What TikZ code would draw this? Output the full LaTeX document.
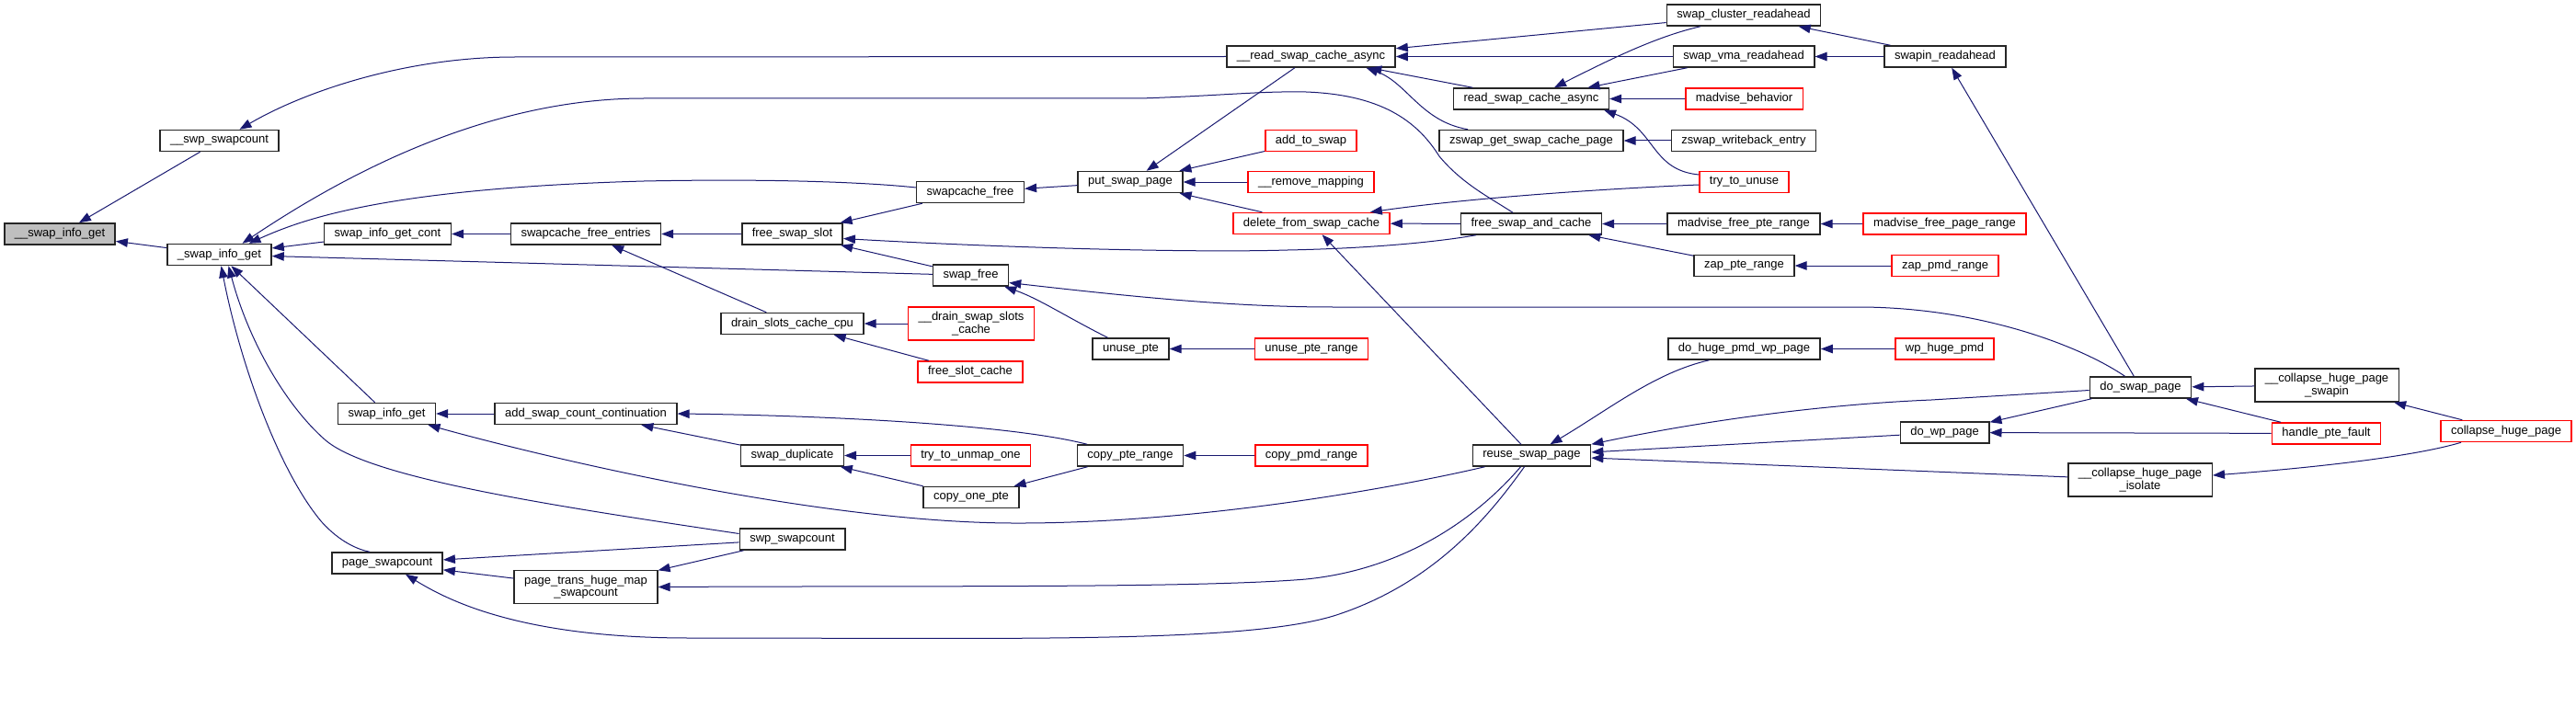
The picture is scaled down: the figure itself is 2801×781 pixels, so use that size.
\documentclass[tikz,border=0pt]{standalone}
\usepackage{fontspec}
\setmainfont{Liberation Sans}
\usetikzlibrary{arrows.meta}
\definecolor{edgeblue}{HTML}{191970}
\definecolor{curgray}{HTML}{BFBFBF}
\tikzset{
  fnbox/.style={draw=black!85, fill=white, line width=1.5pt, inner xsep=11pt, inner ysep=2pt,
    minimum height=23pt, font=\fontsize{13}{13.4}\selectfont},
  redbox/.style={fnbox, draw=red},
  curbox/.style={fnbox, fill=curgray},
  twoline/.style={align=center, minimum height=36pt},
  callline/.style={draw=edgeblue, line width=1pt, {Triangle[length=13pt,width=9.5pt]}-}
}
\begin{document}
\begin{tikzpicture}[x=1pt,y=-1pt]
    % Fix the page to the size of the graph
    \useasboundingbox (0,0) rectangle (2801,781);

    % Draw the function boxes, column by column
    \node[curbox] (sig) at (65,254.5) {\_\_swap\_info\_get};
    \node[fnbox] (swpsc) at (238.5,153) {\_\_swp\_swapcount};
    \node[fnbox] (usig) at (238.5,277) {\_swap\_info\_get};
    \node[fnbox] (sigc) at (421.5,254.5) {swap\_info\_get\_cont};
    \node[fnbox] (sigt) at (420.5,450) {swap\_info\_get};
    \node[fnbox] (psc) at (421,612.5) {page\_swapcount};
    \node[fnbox] (sfe) at (637,254.5) {swapcache\_free\_entries};
    \node[fnbox] (ascc) at (637,450) {add\_swap\_count\_continuation};
    \node[fnbox,twoline] (pthms) at (637,638.5) {page\_trans\_huge\_map\\\_swapcount};
    \node[fnbox] (fss) at (861.5,254.5) {free\_swap\_slot};
    \node[fnbox] (dscc) at (861.5,352) {drain\_slots\_cache\_cpu};
    \node[fnbox] (sdup) at (861.5,495.5) {swap\_duplicate};
    \node[fnbox] (swpsct) at (861.5,586.5) {swp\_swapcount};
    \node[fnbox] (scf) at (1055,209) {swapcache\_free};
    \node[fnbox] (sfree) at (1055.5,299.5) {swap\_free};
    \node[redbox,twoline] (dssc) at (1056,352) {\_\_drain\_swap\_slots\\\_cache};
    \node[redbox] (fsc) at (1055,404.5) {free\_slot\_cache};
    \node[redbox] (ttuo) at (1055.5,495.5) {try\_to\_unmap\_one};
    \node[fnbox] (cop) at (1056,541) {copy\_one\_pte};
    \node[fnbox] (psp) at (1229,198) {put\_swap\_page};
    \node[fnbox] (upte) at (1229.5,379.5) {unuse\_pte};
    \node[fnbox] (cpr) at (1229,495.5) {copy\_pte\_range};
    \node[fnbox] (rscau) at (1425.5,61.5) {\_\_read\_swap\_cache\_async};
    \node[redbox] (ats) at (1425.5,153) {add\_to\_swap};
    \node[redbox] (rmap) at (1425.5,198) {\_\_remove\_mapping};
    \node[redbox] (dfsc) at (1426,243) {delete\_from\_swap\_cache};
    \node[redbox] (upr) at (1426,379.5) {unuse\_pte\_range};
    \node[redbox] (cpmd) at (1426,495.5) {copy\_pmd\_range};
    \node[fnbox] (rsca) at (1665,107.5) {read\_swap\_cache\_async};
    \node[fnbox] (zgscp) at (1665,153) {zswap\_get\_swap\_cache\_page};
    \node[fnbox] (fsac) at (1665,243.5) {free\_swap\_and\_cache};
    \node[fnbox] (rsp) at (1665.5,495.5) {reuse\_swap\_page};
    \node[fnbox] (scr) at (1896,16.5) {swap\_cluster\_readahead};
    \node[fnbox] (svr) at (1896,61.5) {swap\_vma\_readahead};
    \node[redbox] (mb) at (1896.5,107.5) {madvise\_behavior};
    \node[fnbox] (zwe) at (1896,153) {zswap\_writeback\_entry};
    \node[redbox] (ttu) at (1896.5,198) {try\_to\_unuse};
    \node[fnbox] (mfpr) at (1896,243.5) {madvise\_free\_pte\_range};
    \node[fnbox] (zpr) at (1896.5,289) {zap\_pte\_range};
    \node[fnbox] (dhpwp) at (1896.5,379.5) {do\_huge\_pmd\_wp\_page};
    \node[fnbox] (sra) at (2115,61.5) {swapin\_readahead};
    \node[redbox] (mfpgr) at (2114.5,243.5) {madvise\_free\_page\_range};
    \node[redbox] (zpmd) at (2115,289) {zap\_pmd\_range};
    \node[redbox] (whp) at (2114.5,379.5) {wp\_huge\_pmd};
    \node[fnbox] (dwp) at (2114.5,470.5) {do\_wp\_page};
    \node[fnbox] (dsp) at (2327.5,421.5) {do\_swap\_page};
    \node[fnbox,twoline] (chpi) at (2327,522) {\_\_collapse\_huge\_page\\\_isolate};
    \node[fnbox,twoline] (chps) at (2530,419) {\_\_collapse\_huge\_page\\\_swapin};
    \node[redbox] (hpf) at (2529.5,471.5) {handle\_pte\_fault};
    \node[redbox] (chp) at (2725,469) {collapse\_huge\_page};

    % Draw the calls, arrow head at the called function
    \draw[callline] (sig) -- (swpsc);
    \draw[callline] (sig) -- (usig);
    \draw[callline] ([xshift=22pt]swpsc.north) .. controls (330,100) and (440,62) .. (560,62) -- (rscau.west);
    \draw[callline] ([xshift=25pt]usig.north) .. controls (360,200) and (520,107) .. (700,107) -- (1240,107)
        .. controls (1330,104) and (1370,99) .. (1420,100) .. controls (1500,103) and (1540,130) .. (1565,170)
        .. controls (1590,200) and (1620,215) .. ([xshift=-20pt]fsac.north);
    \draw[callline] ([xshift=32pt]usig.north) .. controls (330,238) and (420,205) .. (700,197)
        .. controls (850,194) and (950,199) .. ([yshift=5pt]scf.west);
    \draw[callline] (usig) -- (sigc);
    \draw[callline] (usig) -- (sfree);
    \draw[callline] (usig) -- (sigt);
    \draw[callline] ([xshift=10pt]usig.south) .. controls (270,370) and (310,440) .. (353,478)
        .. controls (400,520) and (600,550) .. ([yshift=6pt]swpsct.west);
    \draw[callline] ([xshift=2pt]usig.south) .. controls (262,400) and (305,515) .. (350,568)
        .. controls (370,590) and (390,598) .. ([xshift=-19pt]psc.north);
    \draw[callline] (sigc) -- (sfe);
    \draw[callline] (sfe) -- (fss);
    \draw[callline] (sfe) -- (dscc);
    \draw[callline] (sigt) -- (ascc);
    \draw[callline] ([xshift=45pt]sigt.south) .. controls (620,505) and (900,568) .. (1100,569)
        .. controls (1300,570) and (1520,530) .. ([xshift=-51pt]rsp.south);
    \draw[callline] (psc) -- (swpsct);
    \draw[callline] (psc) -- (pthms);
    \draw[callline] ([xshift=20pt]psc.south) .. controls (490,655) and (570,694) .. (750,694)
        .. controls (1100,694) and (1350,700) .. (1450,670) .. controls (1560,635) and (1620,560) .. ([xshift=-8pt]rsp.south);
    \draw[callline] (pthms) -- (swpsct);
    \draw[callline] (pthms.east) .. controls (1000,637) and (1300,640) .. (1420,630)
        .. controls (1520,620) and (1600,570) .. ([xshift=-12pt]rsp.south);
    \draw[callline] (ascc.east) .. controls (900,452) and (1100,462) .. ([xshift=-47pt]cpr.north);
    \draw[callline] (ascc) -- (sdup);
    \draw[callline] (sdup) -- (ttuo);
    \draw[callline] (sdup) -- (cop);
    \draw[callline] (cop) -- (cpr);
    \draw[callline] (cpr) -- (cpmd);
    \draw[callline] (fss) -- (scf);
    \draw[callline] ([yshift=-5pt]fss.east) .. controls (1100,270) and (1300,275) .. (1400,272)
        .. controls (1500,270) and (1570,262) .. ([xshift=-60pt]fsac.south);
    \draw[callline] (fss) -- (sfree);
    \draw[callline] (dscc) -- (dssc);
    \draw[callline] (dscc) -- (fsc);
    \draw[callline] ([xshift=-5pt]sfree.south east) .. controls (1130,325) and (1160,345) .. ([xshift=-25pt]upte.north);
    \draw[callline] ([yshift=-8pt]sfree.east) .. controls (1250,325) and (1350,334) .. (1450,334) -- (2020,334)
        .. controls (2150,334) and (2260,375) .. ([xshift=-17pt]dsp.north);
    \draw[callline] (upte) -- (upr);
    \draw[callline] (scf) -- (psp);
    \draw[callline] (psp) -- (rscau);
    \draw[callline] (psp) -- (ats);
    \draw[callline] (psp) -- (rmap);
    \draw[callline] (psp) -- (dfsc);
    \draw[callline] (rscau) -- (scr);
    \draw[callline] (rscau) -- (svr);
    \draw[callline] (rscau) -- (rsca);
    \draw[callline] ([xshift=60pt]rscau.south) .. controls (1530,90) and (1545,132) .. ([xshift=-69pt]zgscp.north);
    \draw[callline] ([xshift=25pt]rsca.north) .. controls (1750,65) and (1800,40) .. ([xshift=-47pt]scr.south);
    \draw[callline] (rsca) -- (svr);
    \draw[callline] (rsca) -- (mb);
    \draw[callline] ([xshift=-6pt]rsca.south east) .. controls (1800,140) and (1795,185) .. ([yshift=8pt]ttu.west);
    \draw[callline] (zgscp) -- (zwe);
    \draw[callline] (scr) -- (sra);
    \draw[callline] (svr) -- (sra);
    \draw[callline] (sra) -- (dsp);
    \draw[callline] ([xshift=-22pt]dfsc.north east) .. controls (1600,215) and (1750,205) .. ([yshift=-3pt]ttu.west);
    \draw[callline] (dfsc) -- (fsac);
    \draw[callline] (dfsc) -- (rsp);
    \draw[callline] (fsac) -- (mfpr);
    \draw[callline] (fsac) -- (zpr);
    \draw[callline] (mfpr) -- (mfpgr);
    \draw[callline] (zpr) -- (zpmd);
    \draw[callline] ([xshift=20pt]rsp.north) .. controls (1750,445) and (1800,405) .. ([xshift=-38pt]dhpwp.south);
    \draw[callline] (dhpwp) -- (whp);
    \draw[callline] (rsp.north east) .. controls (1850,458) and (1980,440) .. (2100,435) -- ([yshift=-3pt]dsp.west);
    \draw[callline] (rsp) -- (dwp);
    \draw[callline] (rsp) -- (chpi);
    \draw[callline] (dwp) -- (dsp);
    \draw[callline] (dwp) -- (hpf);
    \draw[callline] (dsp) -- (chps);
    \draw[callline] (dsp) -- (hpf);
    \draw[callline] (chps) -- (chp);
    \draw[callline] ([yshift=5pt]chpi.east) .. controls (2500,510) and (2620,498) .. ([xshift=-49pt]chp.south);

\end{tikzpicture}
\end{document}
